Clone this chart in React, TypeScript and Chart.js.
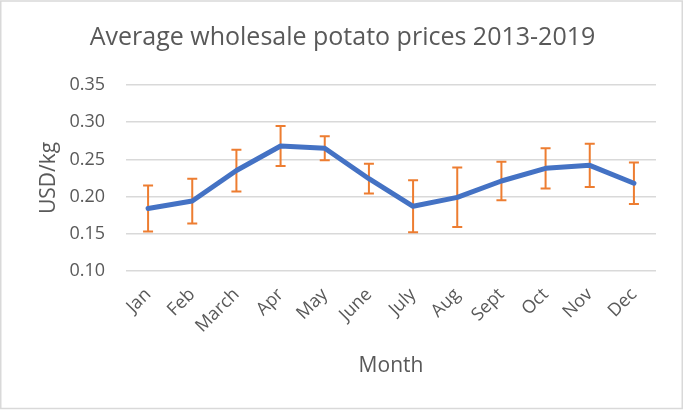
import React, { useEffect, useRef } from "react";
import { Chart, registerables } from "chart.js";

Chart.register(...registerables);

const months = ["Jan", "Feb", "March", "Apr", "May", "June", "July", "Aug", "Sept", "Oct", "Nov", "Dec"];
const avgPrice = [0.184, 0.194, 0.235, 0.268, 0.265, 0.224, 0.187, 0.199, 0.221, 0.238, 0.242, 0.218];
const priceError = [0.031, 0.030, 0.028, 0.027, 0.016, 0.020, 0.035, 0.040, 0.026, 0.027, 0.029, 0.028];
const yMin = 0.1;
const yMax = 0.35;
const yStep = 0.05;

const FONT = "'Open Sans', sans-serif";
const TEXT = "#595959";

const errorBarPlugin = {
  id: "errorBars",
  beforeDatasetsDraw(chart: any) {
    const { ctx, scales } = chart;
    const meta = chart.getDatasetMeta(0);
    ctx.save();
    ctx.strokeStyle = "#ED7D31";
    ctx.lineWidth = 2;
    meta.data.forEach((pt: any, i: number) => {
      const x = pt.x;
      const yTop = scales.y.getPixelForValue(avgPrice[i] + priceError[i]);
      const yBot = scales.y.getPixelForValue(avgPrice[i] - priceError[i]);
      ctx.beginPath();
      ctx.moveTo(x, yTop);
      ctx.lineTo(x, yBot);
      ctx.moveTo(x - 5, yTop);
      ctx.lineTo(x + 5, yTop);
      ctx.moveTo(x - 5, yBot);
      ctx.lineTo(x + 5, yBot);
      ctx.stroke();
    });
    ctx.restore();
  },
};

const framePlugin = {
  id: "frame",
  beforeDraw(chart: any) {
    const { ctx, width, height } = chart;
    ctx.save();
    ctx.fillStyle = "#ffffff";
    ctx.fillRect(0, 0, width, height);
    ctx.restore();
  },
  afterDraw(chart: any) {
    const { ctx } = chart;
    ctx.save();
    ctx.strokeStyle = "#d9d9d9";
    ctx.lineWidth = 1.5;
    ctx.strokeRect(0.75, 1, 681.5, 407.5);
    ctx.restore();
  },
};

export default function App() {
  const ref = useRef<HTMLCanvasElement>(null);
  useEffect(() => {
    if (!ref.current) return;
    const chart = new Chart(ref.current, {
      type: "line",
      data: {
        labels: months,
        datasets: [
          {
            data: avgPrice,
            borderColor: "#4472C4",
            backgroundColor: "#4472C4",
            borderWidth: 5,
            pointRadius: 0,
            borderJoinStyle: "round",
            borderCapStyle: "round",
            tension: 0,
            yAxisID: "y",
          },
        ],
      },
      options: {
        animation: false,
        responsive: false,
        devicePixelRatio: 1,
        layout: { padding: 0 },
        plugins: {
          legend: { display: false },
          tooltip: { enabled: false },
          title: {
            display: true,
            text: "Average wholesale potato prices 2013-2019",
            color: TEXT,
            font: { family: FONT, size: 25, weight: "normal" },
            padding: { top: 23, bottom: 32 },
          },
        },
        scales: {
          x: {
            type: "category",
            offset: true,
            grid: { display: false, drawTicks: false },
            border: { display: false },
            ticks: {
              color: TEXT,
              font: { family: FONT, size: 18 },
              minRotation: 45,
              maxRotation: 45,
              autoSkip: false,
              padding: 13,
            },
            title: {
              display: true,
              text: "Month",
              color: TEXT,
              font: { family: FONT, size: 21 },
              padding: { top: 0, bottom: 32 },
            },
            afterFit(scale: any) {
              scale.height = 140;
            },
          },
          y: {
            min: yMin,
            max: yMax,
            grid: { color: "#d9d9d9", lineWidth: 1.5, drawTicks: false },
            border: { display: false },
            ticks: {
              stepSize: yStep,
              color: TEXT,
              font: { family: FONT, size: 18 },
              padding: 21,
              callback: (v: any) => Number(v).toFixed(2),
            },
            title: {
              display: true,
              text: "USD/kg",
              color: TEXT,
              font: { family: FONT, size: 21 },
              padding: { top: 36, bottom: 0 },
            },
            afterFit(scale: any) {
              scale.width = 126;
            },
          },
          yRight: {
            position: "right",
            min: yMin,
            max: yMax,
            grid: { display: false, drawTicks: false },
            border: { display: false },
            ticks: { display: false },
            afterFit(scale: any) {
              scale.width = 29;
            },
          },
        },
      },
      plugins: [framePlugin, errorBarPlugin],
    });
    return () => chart.destroy();
  }, []);
  return (
    <div style={{ position: "absolute", left: 0, top: 0, width: 685, height: 411 }}>
      <canvas ref={ref} width={685} height={411} />
    </div>
  );
}
